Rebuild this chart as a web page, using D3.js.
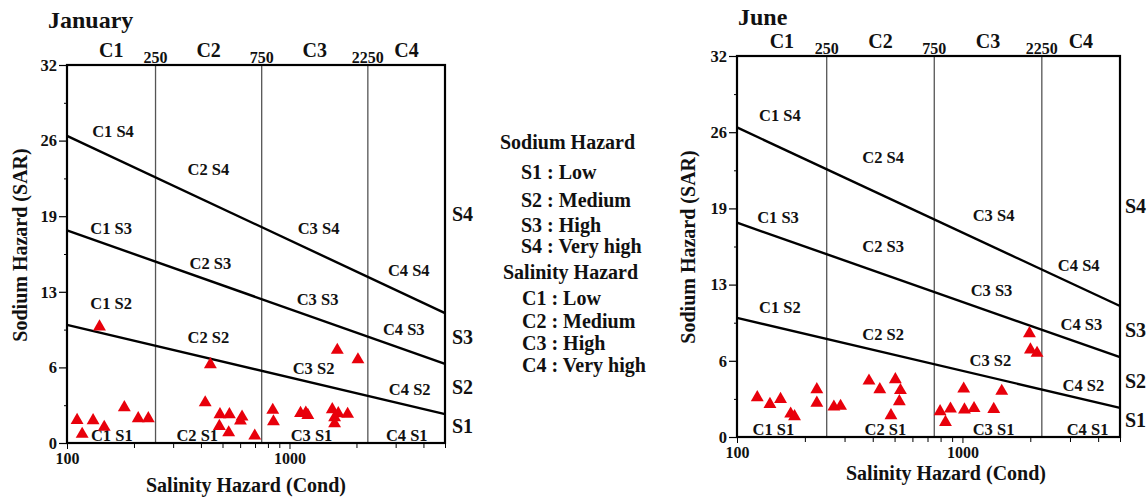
<!DOCTYPE html>
<html><head><meta charset="utf-8">
<script src="https://cdn.jsdelivr.net/npm/d3@7"></script>
<style>
body{margin:0;background:#fff}
svg{display:block}
text{font-family:"Liberation Serif","Times New Roman",serif;font-weight:bold;fill:#111}
</style>
</head><body><svg id="c" width="1148" height="500"></svg>
<script>
// ---------- data ----------
const panelTitles = ["January", "June"];
const salinityClasses = ["C1", "C2", "C3", "C4"];
const salinityBreaks = [250, 750, 2250];
const ecDomain = [100, 5000];
const sarDomain = [0, 32];
const sarTicks = [0, 6.4, 12.8, 19.2, 25.6, 32];
const sarMinorTicks = [3.2, 9.6, 16, 22.4, 28.8];
const ecLabelTicks = [100, 1000];
const ecMinorTicks = [200, 300, 400, 500, 600, 700, 800, 900, 2000, 3000, 4000, 5000];
const sodiumClasses = ["S4", "S3", "S2", "S1"];
const sodiumClassSar = [19.4, 9.0, 4.7, 1.44];
// hazard boundary lines: [EC, SAR] at both ends
const boundaryS1S2 = [[100, 10.0], [5000, 2.45]];
const boundaryS2S3 = [[100, 18.0], [5000, 6.7]];
const boundaryS3S4 = [[100, 26.0], [5000, 11.0]];

const zoneLabels = ["C1 S4","C2 S4","C3 S4","C4 S4","C1 S3","C2 S3","C3 S3","C4 S3",
                    "C1 S2","C2 S2","C3 S2","C4 S2","C1 S1","C2 S1","C3 S1","C4 S1"];
const janLabelEC  = [161,432,1351,3436,158,441,1337,3263,158,432,1283,3471,159,385,1256,3365];
const janLabelSAR = [26.4,23.2,18.2,14.6,18.2,15.2,12.2,9.65,11.8,8.97,6.35,4.57,0.68,0.68,0.68,0.68];
const junLabelEC  = [155,445,1374,3280,152,445,1346,3370,155,445,1330,3440,145,455,1374,3590];
const junLabelSAR = [27.0,23.5,18.6,14.4,18.5,16.0,12.3,9.5,10.9,8.65,6.47,4.37,0.67,0.67,0.67,0.67];

// samples (EC, SAR)
const janEC  = [140,111,117,131,147,181,209,232,441,418,487,537,484,533,612,602,698,1640,2031,841,847,1121,1184,1209,1557,1657,1825,1595,1595];
const janSAR = [10.0,2.09,0.91,2.06,1.50,3.16,2.23,2.23,6.80,3.58,2.57,2.57,1.58,1.04,2.37,2.03,0.76,8.02,7.22,2.94,1.97,2.68,2.71,2.51,2.99,2.65,2.60,2.31,1.80];
const junEC  = [123,140,156,173,180,226,226,269,288,385,430,504,531,525,482,1983,2003,2143,1013,1494,796,885,841,1021,1126,1377];
const junSAR = [3.48,2.91,3.33,2.10,1.88,4.15,3.02,2.69,2.75,4.87,4.15,4.99,4.07,3.14,1.97,8.85,7.48,7.20,4.20,4.01,2.30,2.52,1.40,2.44,2.56,2.49];

const legendSodiumTitle = "Sodium Hazard";
const legendSodium = ["S1 : Low", "S2 : Medium", "S3 : High", "S4 : Very high"];
const legendSalinityTitle = "Salinity Hazard";
const legendSalinity = ["C1 : Low", "C2 : Medium", "C3 : High", "C4 : Very high"];

const xTitle = "Salinity Hazard (Cond)";
const yTitle = "Sodium Hazard (SAR)";

// ---------- drawing ----------
const svg = d3.select("#c");

function drawPanel(cfg) {
  const g = svg.append("g").attr("transform", `translate(${cfg.left},${cfg.top})`);
  const x = d3.scaleLog().domain(ecDomain).range([0, cfg.width]);
  const y = d3.scaleLinear().domain(sarDomain).range([cfg.height, 0]);

  // vertical class breaks
  g.selectAll(".brk").data(salinityBreaks).join("line")
    .attr("x1", d => x(d)).attr("x2", d => x(d))
    .attr("y1", 0).attr("y2", cfg.height)
    .attr("stroke", "#555").attr("stroke-width", 1.3);

  // boundary lines
  const line = d3.line().x(d => x(d[0])).y(d => y(d[1]));
  g.selectAll(".bnd").data([boundaryS1S2, boundaryS2S3, boundaryS3S4]).join("path")
    .attr("d", line).attr("fill", "none").attr("stroke", "#000").attr("stroke-width", 2.4);

  // box
  g.append("rect").attr("width", cfg.width).attr("height", cfg.height)
    .attr("fill", "none").attr("stroke", "#000").attr("stroke-width", 2.2);

  // y axis
  const ya = g.append("g").call(d3.axisLeft(y).tickValues(sarTicks)
      .tickFormat(d3.format(".0f")).tickSize(8).tickPadding(2));
  ya.select(".domain").remove();
  ya.selectAll("text").style("font-size", "16.5px").attr("fill", "#111");
  ya.selectAll("line").attr("stroke-width", 1.2);
  const ym = g.append("g").call(d3.axisLeft(y).tickValues(sarMinorTicks).tickFormat("").tickSize(3));
  ym.select(".domain").remove();

  // x axis
  const xa = g.append("g").attr("transform", `translate(0,${cfg.height})`)
    .call(d3.axisBottom(x).tickValues(ecLabelTicks).tickFormat(d3.format("d")).tickSize(6).tickPadding(4));
  xa.select(".domain").remove();
  xa.selectAll("text").style("font-size", "16px").attr("fill", "#111");
  const xm = g.append("g").attr("transform", `translate(0,${cfg.height})`)
    .call(d3.axisBottom(x).tickValues(ecMinorTicks).tickFormat("").tickSize(5));
  xm.select(".domain").remove();

  // top class labels
  const bounds = [ecDomain[0], ...salinityBreaks, ecDomain[1]];
  g.selectAll(".cls").data(salinityClasses).join("text")
    .attr("x", (d, i) => x(Math.sqrt(bounds[i] * bounds[i + 1])))
    .attr("y", -8).attr("text-anchor", "middle").style("font-size", "20px").text(d => d);
  g.selectAll(".brkl").data(salinityBreaks).join("text")
    .attr("x", d => x(d)).attr("y", -2).attr("text-anchor", "middle")
    .style("font-size", "16px").text(d => d);

  // right S labels
  g.selectAll(".sl").data(sodiumClasses).join("text")
    .attr("x", cfg.width + cfg.sPad).attr("y", (d, i) => y(sodiumClassSar[i]))
    .attr("dy", "0.35em").style("font-size", "20px").text(d => d);

  // zone labels
  g.selectAll(".zl").data(zoneLabels).join("text")
    .attr("x", (d, i) => x(cfg.labelEC[i])).attr("y", (d, i) => y(cfg.labelSAR[i]))
    .attr("dy", "0.35em").attr("text-anchor", "middle").style("font-size", "16.5px").text(d => d);

  // points (triangles, bbox-centred)
  const size = 72;
  const r = Math.sqrt(size / (3 * Math.sqrt(3)));
  const tri = d3.symbol(d3.symbolTriangle, size);
  g.selectAll(".pt").data(cfg.ec.map((e, i) => [e, cfg.sar[i]])).join("path")
    .attr("d", tri)
    .attr("transform", d => `translate(${x(d[0])},${y(d[1]) + r / 2})`)
    .attr("fill", "#e8000b");

  // titles
  svg.append("text").attr("x", cfg.titleX).attr("y", cfg.titleY)
    .style("font-size", "24px").text(cfg.title);
  svg.append("text").attr("x", cfg.xTitleX).attr("y", cfg.xTitleY)
    .attr("text-anchor", "middle").style("font-size", "20px").text(xTitle);
  svg.append("text").attr("transform", `translate(${cfg.yTitleX},${cfg.yTitleY}) rotate(-90)`)
    .attr("text-anchor", "middle").attr("dy", "0.35em").style("font-size", "20px").text(yTitle);
}

drawPanel({left: 67, top: 65, width: 378, height: 378, sPad: 7,
  title: panelTitles[0], titleX: 48, titleY: 28,
  xTitleX: 246, xTitleY: 492, yTitleX: 20, yTitleY: 245,
  labelEC: janLabelEC, labelSAR: janLabelSAR, ec: janEC, sar: janSAR});

drawPanel({left: 737, top: 56, width: 383, height: 381, sPad: 5,
  title: panelTitles[1], titleX: 738, titleY: 25,
  xTitleX: 946, xTitleY: 480, yTitleX: 688, yTitleY: 247,
  labelEC: junLabelEC, labelSAR: junLabelSAR, ec: junEC, sar: junSAR});

// legend
const lg = svg.append("g");
lg.append("text").attr("x", 500).attr("y", 149).style("font-size", "20px").text(legendSodiumTitle);
lg.selectAll(".ls").data(legendSodium).join("text")
  .attr("x", 521).attr("y", (d, i) => [179, 207, 232, 253][i])
  .style("font-size", "20px").text(d => d);
lg.append("text").attr("x", 503).attr("y", 279).style("font-size", "20px").text(legendSalinityTitle);
lg.selectAll(".lc").data(legendSalinity).join("text")
  .attr("x", 522).attr("y", (d, i) => [305, 328, 350, 372][i])
  .style("font-size", "20px").text(d => d);
</script>
</body></html>
